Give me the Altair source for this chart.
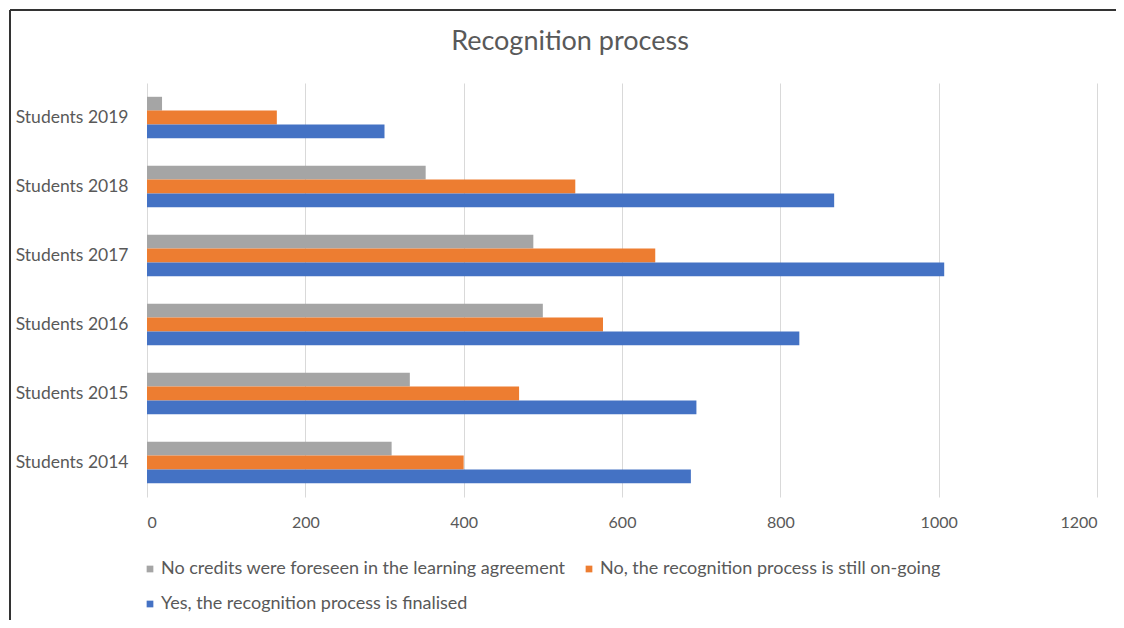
import altair as alt
import pandas as pd

categories = ["Students 2019", "Students 2018", "Students 2017",
              "Students 2016", "Students 2015", "Students 2014"]
series = ["No credits were foreseen in the learning agreement",
          "No, the recognition process is still on-going",
          "Yes, the recognition process is finalised"]
no_credits = [19, 352, 488, 500, 332, 309]
ongoing = [164, 541, 642, 576, 470, 400]
finalised = [300, 868, 1007, 824, 694, 687]
colors = ["#A5A5A5", "#ED7D31", "#4472C4"]
x_ticks = [0, 200, 400, 600, 800, 1000, 1200]
chart_title = "Recognition process"

rows = []
for s, vals in zip(series, [no_credits, ongoing, finalised]):
    for c, v in zip(categories, vals):
        rows.append({"category": c, "series": s, "value": v})
df = pd.DataFrame(rows)

FONT = "Lato"
TXT = "#595959"
W, H = 950, 414

bars = alt.Chart(df).mark_bar().encode(
    x=alt.X("value:Q", scale=alt.Scale(domain=[0, 1200], nice=False),
            axis=alt.Axis(values=x_ticks, format="d", title=None, domain=False,
                          ticks=False, grid=True, gridColor="#D9D9D9",
                          labelFontSize=16, labelColor=TXT, labelPadding=17,
                          labelFont=FONT)),
    y=alt.Y("category:N", sort=categories,
            scale=alt.Scale(paddingInner=0.4, paddingOuter=0.2),
            axis=alt.Axis(title=None, domain=False, ticks=False, grid=False,
                          labelFontSize=17.5, labelColor=TXT, labelPadding=19,
                          labelFont=FONT)),
    yOffset=alt.YOffset("series:N", sort=series),
    color=alt.Color("series:N",
                    scale=alt.Scale(domain=series, range=colors),
                    legend=alt.Legend(title=None, orient="none", legendX=-6,
                                      legendY=477, columns=2, direction="horizontal",
                                      symbolType="square", symbolSize=45,
                                      symbolStrokeWidth=0,
                                      labelFontSize=18, labelColor=TXT,
                                      labelFont=FONT, labelLimit=0,
                                      rowPadding=17, columnPadding=14,
                                      labelOffset=2)),
)

title_df = pd.DataFrame({"t": [chart_title]})
title = alt.Chart(title_df).mark_text(font=FONT, fontSize=27, color=TXT,
                                      align="center", baseline="middle").encode(
    text="t:N", x=alt.value(423), y=alt.value(-41))

top_line = alt.Chart(df).mark_rule(color="#333333", strokeWidth=2).encode(
    x=alt.value(-137), x2=alt.value(W + 19), y=alt.value(-73))
left_line = alt.Chart(df).mark_rule(color="#333333", strokeWidth=2).encode(
    x=alt.value(-137), y=alt.value(-73), y2=alt.value(H + 140))

chart = alt.layer(bars, title, top_line, left_line).properties(
    width=W, height=H,
    autosize=alt.AutoSizeParams(type="none"),
    padding={"left": 139, "top": 75, "right": 19, "bottom": 123},
).configure_view(stroke=None)

chart.save("out.html", embed_options={"renderer": "svg", "actions": False})
